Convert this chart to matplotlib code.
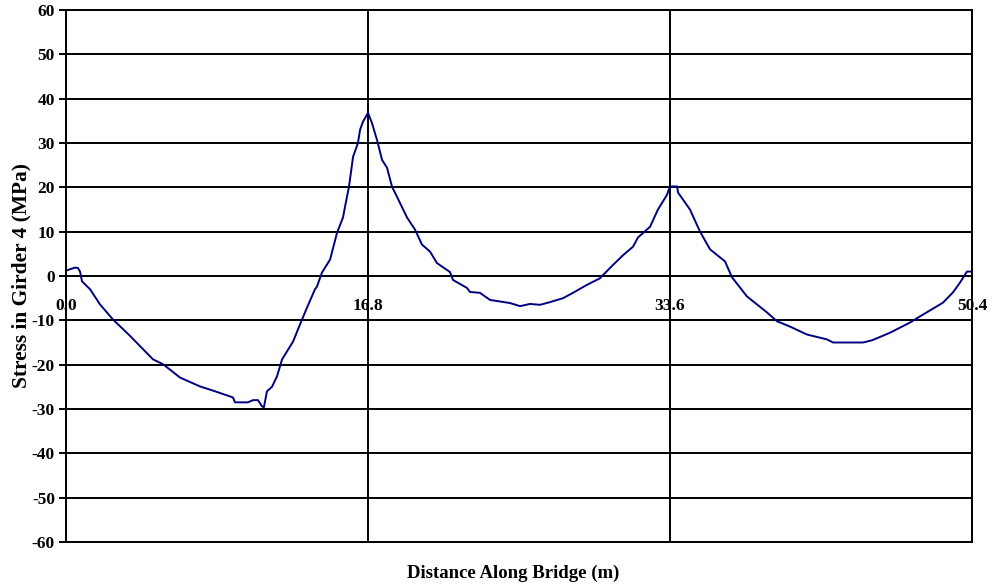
import matplotlib
matplotlib.use("Agg")
import matplotlib.pyplot as plt
from matplotlib.ticker import FixedLocator

# Data
distance = [0.00, 0.28, 0.50, 0.67, 0.78, 0.89, 1.34, 1.89, 2.61, 3.56, 4.84, 5.40,
            6.34, 7.45, 8.29, 9.29, 9.40, 10.12, 10.40, 10.68, 10.90, 11.01, 11.18,
            11.46, 11.74, 12.02, 12.63, 13.13, 13.41, 13.85, 13.96, 14.24, 14.69,
            15.08, 15.41, 15.52, 15.74, 15.97, 16.24, 16.36, 16.52, 16.80, 17.02,
            17.30, 17.58, 17.86, 18.14, 18.41, 18.97, 19.41, 19.80, 20.25, 20.64,
            21.36, 21.53, 22.31, 22.47, 23.03, 23.59, 24.70, 25.26, 25.81, 26.37,
            26.92, 27.65, 28.20, 28.98, 29.71, 29.87, 30.43, 30.99, 31.54, 31.82,
            32.49, 32.93, 33.43, 33.60, 33.99, 34.05, 34.71, 35.27, 35.83, 36.66,
            37.05, 37.88, 38.99, 39.55, 40.27, 41.22, 42.33, 42.67, 44.34, 44.84,
            45.84, 46.95, 47.51, 48.79, 49.34, 49.73, 50.12, 50.40]
stress = [1.2, 1.6, 1.9, 1.8, 1.0, -1.2, -3.0, -6.4, -9.8, -13.5, -18.8, -19.9,
          -22.9, -24.9, -26.0, -27.4, -28.5, -28.5, -28.0, -28.0, -29.4, -29.6, -26.0,
          -25.0, -22.6, -18.8, -14.8, -9.8, -7.1, -3.0, -2.4, 0.8, 3.7,
          9.8, 13.2, 15.6, 20.1, 26.9, 30.0, 33.0, 34.8, 36.8, 34.5,
          30.7, 26.2, 24.4, 20.1, 17.9, 13.2, 10.5, 7.1, 5.5, 2.9,
          0.9, -0.9, -2.7, -3.6, -3.8, -5.4, -6.1, -6.8, -6.3, -6.5,
          -5.9, -5.0, -3.8, -2.0, -0.5, 0.2, 2.5, 4.7, 6.6, 8.7,
          11.1, 15.0, 18.3, 20.2, 20.2, 18.8, 15.0, 10.0, 6.0, 3.3,
          -0.3, -4.6, -8.2, -10.2, -11.4, -13.2, -14.3, -15.0, -15.0, -14.5,
          -12.8, -10.5, -9.1, -6.0, -3.7, -1.5, 1.0, 1.0]

x_ticks = [0.0, 16.8, 33.6, 50.4]
x_tick_labels = ["0.0", "16.8", "33.6", "50.4"]
y_ticks = list(range(-60, 61, 10))
y_tick_labels = [str(v) for v in y_ticks]

plt.rcParams['font.family'] = ['Liberation Serif', 'DejaVu Serif']
plt.rcParams['font.weight'] = 'bold'
plt.rcParams['axes.unicode_minus'] = False

fig = plt.figure(figsize=(9.93, 5.87), dpi=100)
ax = fig.add_axes([66/993, 1-542/587, (972-66)/993, (542-10)/587])

ax.set_xlim(0, 50.4)
ax.set_ylim(-60, 60)

ax.yaxis.set_major_locator(FixedLocator(y_ticks))
ax.set_yticklabels(y_tick_labels, fontsize=12.5, fontweight='bold')
ax.xaxis.set_major_locator(FixedLocator(x_ticks))
ax.grid(True, which='major', color='black', linewidth=1.4)
ax.set_axisbelow(True)
for s in ax.spines.values():
    s.set_linewidth(1.4)
    s.set_color('black')

ax.plot(distance, stress, color='#000080', linewidth=1.4)

ax.tick_params(axis='y', direction='out', length=5, width=1.4, pad=3)
ax.tick_params(axis='x', length=0, labelbottom=False)

for xv, lab in zip(x_ticks, x_tick_labels):
    ax.annotate(lab, xy=(xv, 0), xytext=(0, -30), textcoords='offset pixels',
                ha='center', va='center', fontsize=12.5, fontweight='bold')

fig.text(513/993, 1-573/587, "Distance Along Bridge (m)", ha='center', va='center',
         fontsize=13.5, fontweight='bold')
fig.text(21/993, 1-275/587, "Stress in Girder 4 (MPa)", ha='center', va='center',
         rotation=90, fontsize=15.4, fontweight='bold')

fig.savefig("out.png", dpi=100)
